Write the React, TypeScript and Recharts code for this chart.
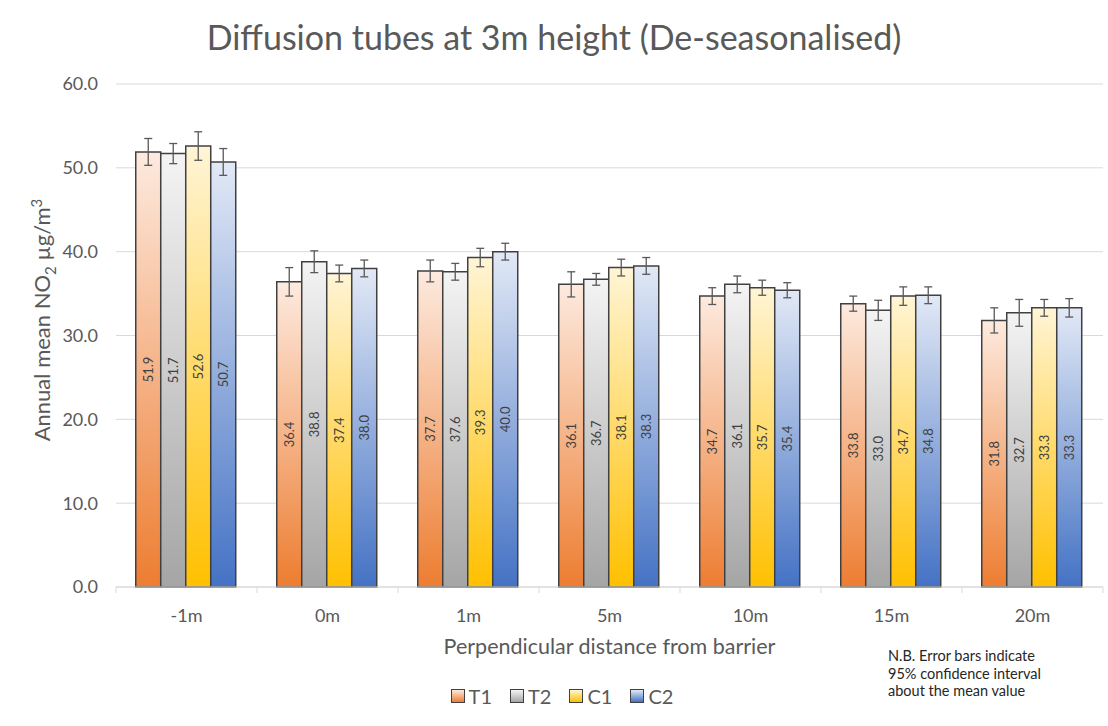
import React from "react";
import {
  BarChart,
  Bar,
  XAxis,
  YAxis,
  CartesianGrid,
  ErrorBar,
  LabelList,
  Label,
} from "recharts";

const categories = ["-1m", "0m", "1m", "5m", "10m", "15m", "20m"];
const t1 = [51.9, 36.4, 37.7, 36.1, 34.7, 33.8, 31.8];
const t2 = [51.7, 38.8, 37.6, 36.7, 36.1, 33.0, 32.7];
const c1 = [52.6, 37.4, 39.3, 38.1, 35.7, 34.7, 33.3];
const c2 = [50.7, 38.0, 40.0, 38.3, 35.4, 34.8, 33.3];
const t1Err = [1.6, 1.7, 1.3, 1.5, 1.0, 0.9, 1.5];
const t2Err = [1.2, 1.3, 1.0, 0.7, 1.0, 1.2, 1.6];
const c1Err = [1.7, 1.0, 1.1, 1.0, 0.9, 1.1, 1.0];
const c2Err = [1.6, 1.0, 1.0, 1.0, 0.9, 1.0, 1.1];
const yTicks = [0, 10, 20, 30, 40, 50, 60];

const data = categories.map((name, i) => ({
  name,
  T1: t1[i],
  T2: t2[i],
  C1: c1[i],
  C2: c2[i],
  t1Err: t1Err[i],
  t2Err: t2Err[i],
  c1Err: c1Err[i],
  c2Err: c2Err[i],
}));

const series = [
  { key: "T1", err: "t1Err", light: "#fdeadf", dark: "#ed7d31" },
  { key: "T2", err: "t2Err", light: "#f4f4f4", dark: "#a5a5a5" },
  { key: "C1", err: "c1Err", light: "#fff5d6", dark: "#ffc000" },
  { key: "C2", err: "c2Err", light: "#e2e9f6", dark: "#4472c4" },
];

const FONT = "Lato, 'Open Sans', sans-serif";

const XTick = (props: any) => {
  const { x, y, payload, index, width } = props;
  const half = width / (categories.length * 2);
  return (
    <g>
      <line x1={x - half} x2={x - half} y1={y} y2={y + 6} stroke="#d9d9d9" />
      {index === categories.length - 1 && (
        <line x1={x + half} x2={x + half} y1={y} y2={y + 6} stroke="#d9d9d9" />
      )}
      <text x={x} y={y + 35} textAnchor="middle" fill="#595959" fontSize={18} fontFamily={FONT}>
        {payload.value}
      </text>
    </g>
  );
};

const YLabel = () => (
  <text
    x={50}
    y={320}
    transform="rotate(-90, 50, 320)"
    textAnchor="middle"
    fill="#595959"
    fontSize={22}
    fontFamily={FONT}
  >
    Annual mean NO
    <tspan fontSize={15} dy={6}>2</tspan>
    <tspan dy={-6}> µg/m</tspan>
    <tspan fontSize={15} dy={-8}>3</tspan>
  </text>
);

export default function App() {
  return (
    <div style={{ position: "absolute", left: 0, top: 0, width: 1108, height: 726, background: "#fff" }}>
      <div
        style={{
          position: "absolute",
          top: 16,
          left: 0,
          width: 1108,
          textAlign: "center",
          fontFamily: FONT,
          fontSize: 34,
          color: "#595959",
        }}
      >
        Diffusion tubes at 3m height (De-seasonalised)
      </div>
      <BarChart
        width={1108}
        height={726}
        data={data}
        margin={{ top: 84, right: 5, bottom: 109, left: 0 }}
        barCategoryGap="14%"
        barGap={0}
      >
        <defs>
          {series.map((s) => (
            <linearGradient key={s.key} id={`grad-${s.key}`} x1="0" y1="0" x2="0" y2="1">
              <stop offset="0%" stopColor={s.light} />
              <stop offset="100%" stopColor={s.dark} />
            </linearGradient>
          ))}
        </defs>
        <CartesianGrid vertical={false} stroke="#d9d9d9" />
        <XAxis
          dataKey="name"
          stroke="#d9d9d9"
          tickSize={0}
          tickMargin={0}
          tick={<XTick />}
          interval={0}
        >
          <Label
            value="Perpendicular distance from barrier"
            position="bottom"
            offset={22}
            fill="#595959"
            fontSize={21.5}
            fontFamily={FONT}
          />
        </XAxis>
        <YAxis
          width={116}
          domain={[0, 60]}
          ticks={yTicks}
          axisLine={false}
          tickLine={false}
          tickSize={0}
          tickMargin={18}
          tickFormatter={(v: number) => v.toFixed(1)}
          tick={{ fill: "#595959", fontSize: 18, fontFamily: FONT }}
          label={<YLabel />}
        />
        {series.map((s) => (
          <Bar
            key={s.key}
            dataKey={s.key}
            fill={`url(#grad-${s.key})`}
            stroke="#404040"
            strokeWidth={1.5}
            isAnimationActive={false}
          >
            <ErrorBar dataKey={s.err} width={4} stroke="#595959" strokeWidth={1.3} />
            <LabelList
              dataKey={s.key}
              position="center"
              angle={-90}
              fill="#404040"
              fontSize={13}
              fontFamily={FONT}
              formatter={(v: any) => Number(v).toFixed(1)}
            />
          </Bar>
        ))}
      </BarChart>
      <div
        style={{
          position: "absolute",
          top: 684,
          left: 0,
          width: 1108,
          display: "flex",
          justifyContent: "center",
          gap: 18,
          fontFamily: FONT,
          fontSize: 20,
          color: "#595959",
          paddingLeft: 16,
          boxSizing: "border-box",
        }}
      >
        {series.map((s) => (
          <div key={s.key} style={{ display: "flex", alignItems: "center", gap: 4 }}>
            <span
              style={{
                display: "inline-block",
                width: 12,
                height: 12,
                border: "1px solid #404040",
                background: `linear-gradient(${s.light}, ${s.dark})`,
              }}
            />
            <span>{s.key}</span>
          </div>
        ))}
      </div>
      <div
        style={{
          position: "absolute",
          left: 888,
          top: 647,
          fontFamily: FONT,
          fontSize: 14.5,
          lineHeight: "17.5px",
          color: "#262626",
        }}
      >
        N.B. Error bars indicate
        <br />
        95% confidence interval
        <br />
        about the mean value
      </div>
    </div>
  );
}
